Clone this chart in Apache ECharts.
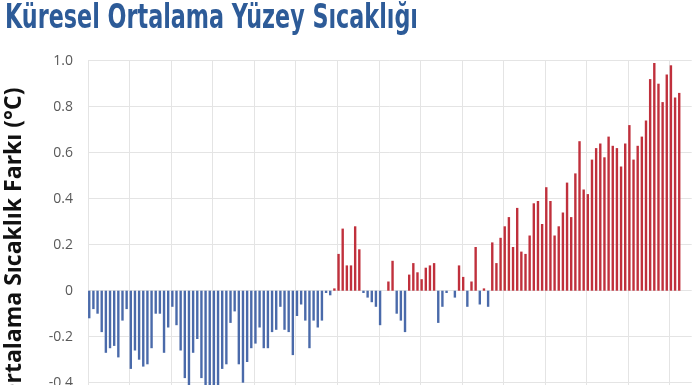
<!DOCTYPE html>
<html><head><meta charset="utf-8">
<script src="https://cdn.jsdelivr.net/npm/echarts@6/dist/echarts.min.js"></script>
<style>html,body{margin:0;padding:0;background:#fff;overflow:hidden}#c{width:696px;height:385px}</style>
</head><body><div id="c"></div>
<script>
const titleText = 'Küresel Ortalama Yüzey Sıcaklığı';
const yAxisTitle = 'Ortalama Sıcaklık Farkı (°C)';
const firstYear = 1880;
const anomalies = [
  -0.12, -0.08, -0.10, -0.18, -0.27, -0.25, -0.24, -0.29, -0.13, -0.08,
  -0.34, -0.26, -0.30, -0.33, -0.32, -0.25, -0.10, -0.10, -0.27, -0.16,
  -0.07, -0.15, -0.26, -0.38, -0.44, -0.27, -0.21, -0.38, -0.43, -0.46,
  -0.43, -0.44, -0.34, -0.32, -0.14, -0.09, -0.32, -0.40, -0.31, -0.25,
  -0.23, -0.16, -0.25, -0.25, -0.18, -0.17, -0.07, -0.17, -0.18, -0.28,
  -0.11, -0.06, -0.13, -0.25, -0.13, -0.16, -0.13, -0.01, -0.02, 0.01,
  0.16, 0.27, 0.11, 0.11, 0.28, 0.18, -0.01, -0.03, -0.05, -0.07,
  -0.15, 0.00, 0.04, 0.13, -0.10, -0.13, -0.18, 0.07, 0.12, 0.08,
  0.05, 0.10, 0.11, 0.12, -0.14, -0.07, -0.01, 0.00, -0.03, 0.11,
  0.06, -0.07, 0.04, 0.19, -0.06, 0.01, -0.07, 0.21, 0.12, 0.23,
  0.28, 0.32, 0.19, 0.36, 0.17, 0.16, 0.24, 0.38, 0.39, 0.29,
  0.45, 0.39, 0.24, 0.28, 0.34, 0.47, 0.32, 0.51, 0.65, 0.44,
  0.42, 0.57, 0.62, 0.64, 0.58, 0.67, 0.63, 0.62, 0.54, 0.64,
  0.72, 0.57, 0.63, 0.67, 0.74, 0.92, 0.99, 0.90, 0.82, 0.94,
  0.98, 0.84, 0.86
];
const years = anomalies.map((_, i) => firstYear + i);
const yMin = -0.6, yMax = 1.0, yStep = 0.2;

const posColor = '#c0303c', negColor = '#4a6aaa';
const seriesData = years.map((yr, i) => ({
  value: [yr, anomalies[i]],
  itemStyle: { color: anomalies[i] < 0 ? negColor : posColor }
}));

const titleFont = 'bold 34px "Liberation Sans Narrow", "DejaVu Sans Condensed", "Roboto", sans-serif';
const cv = document.createElement('canvas').getContext('2d');
cv.font = titleFont;
const tw = cv.measureText(titleText).width;
const sx = 413 / tw;

const chart = echarts.init(document.getElementById('c'), null, { renderer: 'canvas' });
chart.setOption({
  animation: false,
  backgroundColor: '#fff',
  graphic: [{
    type: 'text', x: 5, y: 2, scaleX: sx, scaleY: 1,
    style: { text: titleText, font: titleFont, fill: '#2d5b98' }
  }],
  grid: { left: 88, top: 60.7, width: 603.7, height: 368, outerBoundsMode: 'none', containLabel: false },
  xAxis: {
    type: 'value', min: 1879.7, max: 2025.0, interval: 10,
    axisLine: { show: false }, axisTick: { show: false }, axisLabel: { show: false },
    splitLine: { show: true, showMaxLine: false, lineStyle: { color: '#e4e4e4', width: 1 } }
  },
  yAxis: {
    type: 'value', min: yMin, max: yMax, interval: yStep,
    name: yAxisTitle, nameLocation: 'middle', nameGap: 62,
    nameTextStyle: { fontFamily: 'Open Sans', fontWeight: 'bold', fontSize: 23, color: '#111' },
    axisLine: { show: false }, axisTick: { show: false },
    axisLabel: {
      margin: 15, color: '#595959', fontFamily: 'Open Sans', fontSize: 14,
      formatter: v => Math.abs(v) < 1e-9 ? '0' : v.toFixed(1)
    },
    splitLine: { lineStyle: { color: '#e4e4e4', width: 1 } }
  },
  series: [{
    type: 'bar', data: seriesData, barWidth: 2.4, clip: false
  }]
});
</script>
</body></html>
